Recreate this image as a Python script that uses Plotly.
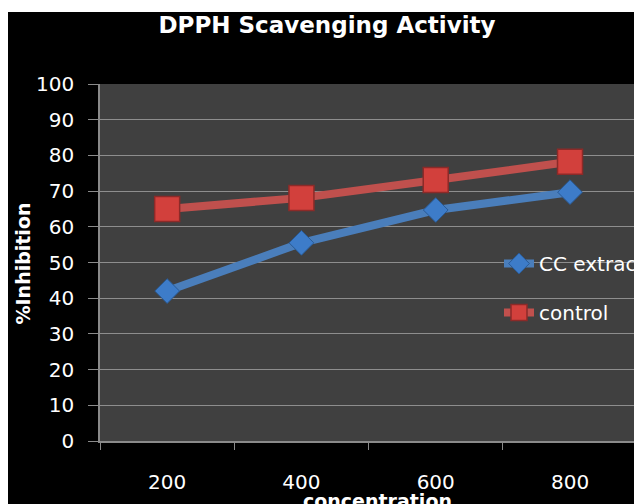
import plotly.graph_objects as go

categories = ["200", "400", "600", "800"]
cc_extract = [42.0, 55.5, 64.7, 69.7]
control = [65.0, 68.1, 73.1, 78.2]
y_ticks = [0, 10, 20, 30, 40, 50, 60, 70, 80, 90, 100]

FONT = "'DejaVu Sans', sans-serif"
OFF = 8  # page body margin
W, H = 634, 496
L, R, T, B = 92, 0, 76, 63
pw = W - L - R
ph = H - T - B


def px_x(px_ref):
    return (px_ref - OFF - L) / pw


def px_y(py_ref):
    return (H - B - (py_ref - OFF)) / ph


fig = go.Figure()
fig.add_trace(go.Scatter(
    x=categories, y=cc_extract, name="CC extract", mode="lines+markers",
    line=dict(color="#4a7ebb", width=8),
    marker=dict(symbol="diamond", size=19, color="#3d7cc9",
                line=dict(color="#2a5a94", width=1)),
    legendgroup="a",
))
fig.add_trace(go.Scatter(
    x=categories, y=control, name="control", mode="lines+markers",
    line=dict(color="#c0504d", width=8),
    marker=dict(symbol="square", size=25, color="#d2403c",
                line=dict(color="#8c2a28", width=1.5)),
    legendgroup="b",
))

fig.update_layout(
    width=W, height=H,
    margin=dict(l=L, r=R, t=T, b=B, autoexpand=False),
    paper_bgcolor="black",
    plot_bgcolor="#404040",
    font=dict(family=FONT, color="white", size=20),
    title=dict(text="<b>DPPH Scavenging Activity</b>", x=(327 - OFF) / W, xanchor="center",
               y=1 - 16.5 / H, yanchor="middle", font=dict(size=23, color="white")),
    showlegend=True,
    legend=dict(x=px_x(499), y=px_y(244), xanchor="left", yanchor="top",
                bgcolor="rgba(0,0,0,0)", font=dict(size=20, color="white"),
                traceorder="grouped", tracegroupgap=20),
    xaxis=dict(
        type="category", range=[-0.5, 3.536],
        showgrid=False, showline=True, linecolor="#8a8a8a", linewidth=1.5,
        ticks="outside", tickson="boundaries", ticklen=7, tickcolor="#8a8a8a",
        tickfont=dict(size=20, color="white"), ticklabelstandoff=22,
        zeroline=False,
    ),
    yaxis=dict(
        range=[0, 100], tickvals=y_ticks,
        showgrid=True, gridcolor="#8e8e8e", gridwidth=1,
        showline=True, linecolor="#8a8a8a", linewidth=1.5,
        ticks="outside", ticklen=10, tickcolor="#8a8a8a",
        tickfont=dict(size=20, color="white"), ticklabelstandoff=10,
        zeroline=False,
    ),
    annotations=[
        dict(text="<b>%Inhibition</b>", textangle=-90, x=px_x(22), y=px_y(263.5),
             xref="paper", yref="paper", showarrow=False,
             xanchor="center", yanchor="middle",
             font=dict(size=19, color="white")),
        dict(text="<b>concentration</b>", x=px_x(377.5), y=px_y(501),
             xref="paper", yref="paper", showarrow=False,
             xanchor="center", yanchor="middle",
             font=dict(size=19, color="white")),
    ],
    shapes=[
        dict(type="rect", xref="paper", yref="paper", x0=-0.3, x1=1.2,
             y0=px_y(12), y1=1.5, fillcolor="white", line=dict(width=0), layer="above"),
    ],
)

fig.write_html("out.html")
